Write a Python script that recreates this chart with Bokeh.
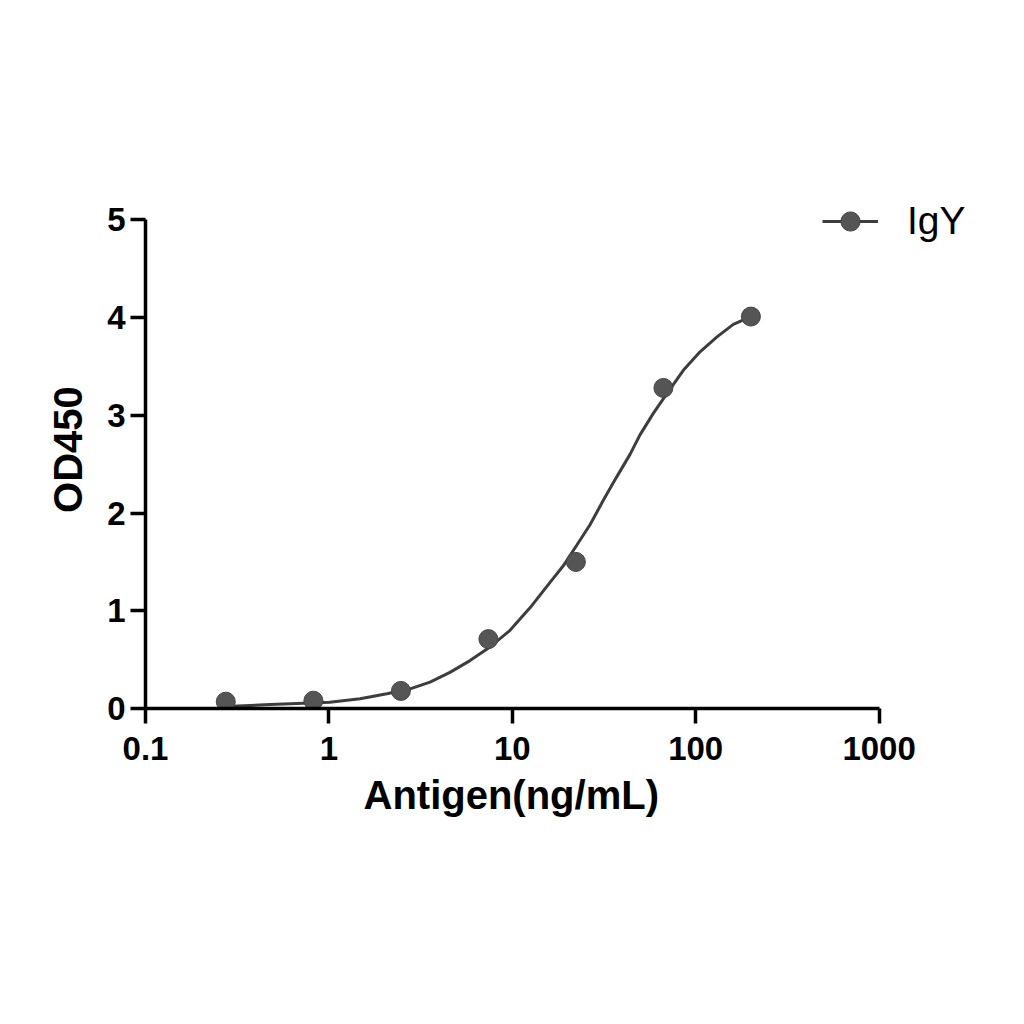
from bokeh.embed import file_html
from bokeh.models import FixedTicker, Legend, LegendItem, Title
from bokeh.plotting import figure
from bokeh.resources import INLINE

# measured points (3-fold dilution series)
antigen = [0.274, 0.823, 2.469, 7.407, 22.22, 66.67, 200.0]
od450 = [0.07, 0.08, 0.18, 0.71, 1.50, 3.28, 4.01]

# fitted curve
fit_x = [0.274, 0.477, 0.725, 1.01, 1.48, 2.07, 2.77, 3.56, 4.57, 5.88,
         7.56, 9.72, 12.49, 16.06, 18.97, 22.45, 26.53, 31.35, 37.10,
         43.84, 49.69, 58.72, 69.49, 85.6, 105.6, 130.2, 160.3, 200.0]
fit_y = [0.02, 0.04, 0.054, 0.065, 0.10, 0.15, 0.20, 0.27, 0.37, 0.49,
         0.63, 0.80, 1.03, 1.29, 1.46, 1.67, 1.88, 2.13, 2.37,
         2.60, 2.80, 3.02, 3.22, 3.46, 3.65, 3.80, 3.93, 4.01]

x_ticks = [0.1, 1, 10, 100, 1000]
x_tick_labels = ["0.1", "1", "10", "100", "1000"]
y_ticks = [0, 1, 2, 3, 4, 5]

FONT = "Liberation Sans"
LINE = "#3d3d3d"
DOT = "#555555"

DECADE_PX = 183.4   # width of one log decade on screen
UNIT_PX = 97.7      # height of one OD unit on screen
FRAME_W = 855       # frame reaches past 1000 so the legend is not clipped
Y_TOP = 5.3

p = figure(
    x_axis_type="log",
    x_range=(0.1, 10 ** (FRAME_W / DECADE_PX - 1)),
    y_range=(0, Y_TOP),
    frame_width=FRAME_W,
    frame_height=round(Y_TOP * UNIT_PX),
    min_border_left=145,
    min_border_top=190,
    min_border_right=8,
    min_border_bottom=290,
    toolbar_location=None,
    output_backend="svg",
    y_axis_label="OD450",
)

line = p.line(fit_x, fit_y, line_color=LINE, line_width=3)
dots = p.scatter(antigen, od450, size=19, fill_color=DOT, line_color="#444444",
                 line_width=1)

p.grid.grid_line_color = None
p.outline_line_color = None

for ax in (p.xaxis[0], p.yaxis[0]):
    ax.axis_line_width = 3.5
    ax.axis_line_color = "black"
    ax.major_tick_line_width = 3.5
    ax.major_tick_line_color = "black"
    ax.major_tick_in = 0
    ax.major_tick_out = 15
    ax.minor_tick_line_color = None
    ax.major_label_text_font = FONT
    ax.major_label_text_font_style = "bold"
    ax.major_label_text_font_size = "33px"
    ax.major_label_text_color = "black"
    ax.axis_label_text_font = FONT
    ax.axis_label_text_font_style = "bold"
    ax.axis_label_text_font_size = "40px"
    ax.axis_label_text_color = "black"

p.xaxis.ticker = FixedTicker(ticks=x_ticks)
p.xaxis.major_label_overrides = dict(zip(x_ticks, x_tick_labels))
p.xaxis.bounds = (0.1, 1000)
p.xaxis.major_label_standoff = 13
p.yaxis.ticker = FixedTicker(ticks=y_ticks)
p.yaxis.bounds = (0, 5)
p.yaxis.major_label_standoff = 5
p.yaxis.axis_label_standoff = 14

# x title centred under the 0.1-1000 axis, not under the wider frame
x_title = Title(
    text="Antigen(ng/mL)",
    align="left",
    offset=218,
    standoff=16,
    text_font=FONT,
    text_font_style="bold",
    text_font_size="40px",
    text_color="black",
)
p.add_layout(x_title, "below")

legend = Legend(
    items=[LegendItem(label="IgY", renderers=[line, dots])],
    location=(677, 463),
    padding=0,
    margin=0,
    border_line_color=None,
    background_fill_alpha=0,
    glyph_width=56,
    glyph_height=48,
    label_standoff=29,
    label_text_font=FONT,
    label_text_font_size="39px",
    label_text_color="black",
)
p.add_layout(legend)

open("out.html", "w").write(file_html(p, INLINE))
